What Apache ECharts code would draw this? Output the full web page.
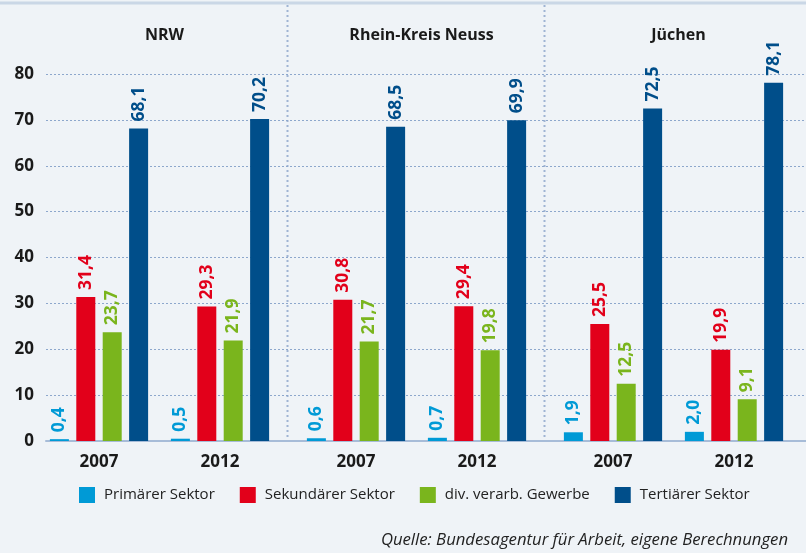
<!DOCTYPE html>
<html><head><meta charset="utf-8">
<script src="https://cdn.jsdelivr.net/npm/echarts@6/dist/echarts.min.js"></script>
<style>html,body{margin:0;padding:0;background:#eff3f7}#c{width:806px;height:553px}</style>
</head><body><div id="c"></div>
<script>
const groups = ['NRW', 'Rhein-Kreis Neuss', 'Jüchen'];
const years = ['2007', '2012'];
const seriesNames = ['Primärer Sektor', 'Sekundärer Sektor', 'div. verarb. Gewerbe', 'Tertiärer Sektor'];
// values per series, order: NRW 2007, NRW 2012, RKN 2007, RKN 2012, Jüchen 2007, Jüchen 2012
const primaer = [0.4, 0.5, 0.6, 0.7, 1.9, 2.0];
const sekundaer = [31.4, 29.3, 30.8, 29.4, 25.5, 19.9];
const gewerbe = [23.7, 21.9, 21.7, 19.8, 12.5, 9.1];
const tertiaer = [68.1, 70.2, 68.5, 69.9, 72.5, 78.1];
const yTicks = [0, 10, 20, 30, 40, 50, 60, 70, 80];
const source = 'Quelle: Bundesagentur für Arbeit, eigene Berechnungen';

const colors = ['#009ad6', '#e2001a', '#7ab51d', '#004e8a'];
const allData = [primaer, sekundaer, gewerbe, tertiaer];
const FONT = 'Open Sans';
const TOP = 74, BOTTOM = 112;
const gridLefts = [38.5, 295.5, 552.5], GW = 242;

const grids = [{ left: 46, right: 0, top: TOP, bottom: BOTTOM }];
const xAxes = [{ gridIndex: 0, type: 'category', data: [''], axisLine: { lineStyle: { color: '#a7bcd8', width: 2 } }, axisTick: { show: false }, axisLabel: { show: false } }];
const yAxes = [{ gridIndex: 0, type: 'value', min: yTicks[0], max: yTicks[yTicks.length - 1], interval: 10,
  axisLabel: { color: '#1a1a1a', fontFamily: FONT, fontWeight: 'bold', fontSize: 17, margin: 12 },
  splitLine: { lineStyle: { color: '#8da7cc', type: [2, 2], width: 1 } }, axisLine: { show: false }, axisTick: { show: false } }];
const series = [];
groups.forEach((g, gi) => {
  grids.push({ left: gridLefts[gi], width: GW, top: TOP, bottom: BOTTOM });
  xAxes.push({ gridIndex: gi + 1, type: 'category', data: years, axisLine: { show: false }, axisTick: { show: false },
    axisLabel: { color: '#1a1a1a', fontFamily: FONT, fontWeight: 'bold', fontSize: 17, margin: 13 } });
  yAxes.push({ gridIndex: gi + 1, type: 'value', min: 0, max: 80, show: false, splitLine: { show: false } });
  seriesNames.forEach((n, si) => {
    series.push({
      name: n, type: 'bar', xAxisIndex: gi + 1, yAxisIndex: gi + 1,
      data: allData[si].slice(gi * 2, gi * 2 + 2),
      barWidth: 19, barGap: '39%',
      itemStyle: { color: colors[si] },
      label: { show: true, position: 'top', rotate: 90, align: 'left', verticalAlign: 'middle', distance: 7,
        color: colors[si], fontFamily: FONT, fontWeight: 'bold', fontSize: 17.5,
        formatter: p => p.value.toFixed(1).replace('.', ',') }
    });
  });
});

const titles = groups.map((g, gi) => ({
  text: g, left: gridLefts[gi] + GW / 2, top: 22, textAlign: 'center',
  textStyle: { fontFamily: FONT, fontWeight: 'bold', fontSize: 16, color: '#1a1a1a' }
}));
titles.push({ text: source, right: 13, top: 527, textStyle: { fontFamily: FONT, fontStyle: 'italic', fontWeight: 'normal', fontSize: 16.7, color: '#222' } });

const sepXs = [(gridLefts[0] + GW + gridLefts[1]) / 2 - 0.5, (gridLefts[1] + GW + gridLefts[2]) / 2 - 0.5];
const graphic = [
  { type: 'line', shape: { x1: 0, y1: 3, x2: 806, y2: 3 }, style: { stroke: '#cad7e6', lineWidth: 3 }, z: 10 }
].concat(sepXs.map(x => ({ type: 'line', shape: { x1: x, y1: 5, x2: x, y2: 440 }, style: { stroke: '#9fb4d3', lineWidth: 2, lineDash: [2, 3] }, z: 0 })));

const chart = echarts.init(document.getElementById('c'), null, { renderer: 'canvas' });
chart.setOption({
  backgroundColor: '#eff3f7',
  animation: false,
  title: titles,
  grid: grids, xAxis: xAxes, yAxis: yAxes, series,
  legend: { data: seriesNames, bottom: 45, left: 74, itemWidth: 16, itemHeight: 16, itemGap: 25,
    icon: 'rect', textStyle: { fontFamily: FONT, fontSize: 15, color: '#222', padding: [0, 0, 0, 4] } },
  graphic
});
</script></body></html>
